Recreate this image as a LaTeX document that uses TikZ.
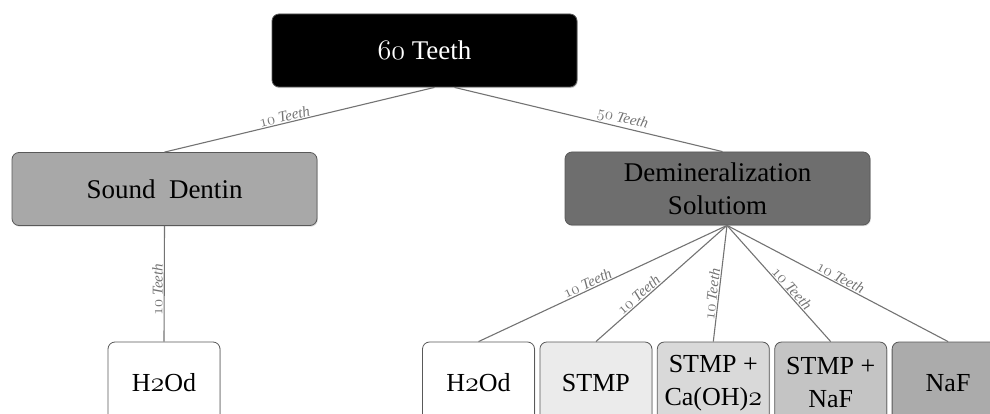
\documentclass[tikz,border=0pt]{standalone}
\usepackage{fontspec}
\setmainfont{Liberation Serif}
\usetikzlibrary{positioning,shadows}
\newcommand{\osn}[1]{\scalebox{1.13}{\fontencoding{OML}\fontfamily{cmm}\fontshape{it}\selectfont#1}}

\begin{document}
\begin{tikzpicture}[
      x=1pt,y=-1pt,
      every node/.style={font=\fontsize{27}{33}\selectfont},
      box/.style={draw=black!65,rounded corners=7pt,line width=0.8pt,align=center,inner sep=0pt,
        minimum width=305pt,minimum height=73pt,
        drop shadow={shadow xshift=0.8pt,shadow yshift=-1.2pt,opacity=0.3}},
      leaf/.style={box,minimum width=112pt,minimum height=82pt,font=\fontsize{26}{33}\selectfont},
      link/.style={draw=black!55,line width=1.1pt},
      dlbl/.style={sloped,above,inner sep=1pt,font=\itshape\fontsize{15}{17}\selectfont,text=black!55},
    ]
    \useasboundingbox (0,0) rectangle (990,414);

    \node[box,fill=black,text=white] (teeth) at (424.5,50.5) {\osn{60} Teeth};
    \node[box,fill=black!34] (sound) at (164.5,189) {Sound\ \ Dentin};
    \node[box,fill=black!57] (demin) at (717.5,188.5) {Demineralization\\Solutiom};

    % grupos finais
    \node[leaf,fill=white] (h2oa) at (164,383) {H\osn{2}Od};
    \node[leaf,fill=white] (h2ob) at (478.5,383) {H\osn{2}Od};
    \node[leaf,fill=black!8,right=4.6pt of h2ob] (stmp) {STMP};
    \node[leaf,fill=black!15,right=4.6pt of stmp] (stca) {STMP +\\Ca(OH)\osn{2}};
    \node[leaf,fill=black!23,right=4.6pt of stca] (stnaf) {STMP +\\NaF};
    \node[leaf,fill=black!33,right=4.6pt of stnaf] (naf) {NaF};

    \draw[link] ([xshift=10pt]teeth.south) -- (sound.north) node[dlbl,pos=0.55]{\osn{10} Teeth};
    \draw[link] ([xshift=30pt]teeth.south) -- ([xshift=5pt]demin.north) node[dlbl,pos=0.62]{\osn{50} Teeth};
    \draw[link] (sound.south) -- (h2oa.north) node[dlbl,pos=0.55]{\osn{10} Teeth};

    \draw[link] ([xshift=9.5pt]demin.south) -- (h2ob.north) node[dlbl,pos=0.55]{\osn{10} Teeth};
    \draw[link] ([xshift=9.5pt]demin.south) -- (stmp.north) node[dlbl,pos=0.64]{\osn{10} Teeth};
    \draw[link] ([xshift=9.5pt]demin.south) -- (stca.north) node[dlbl,pos=0.6]{\osn{10} Teeth};
    \draw[link] ([xshift=9.5pt]demin.south) -- (stnaf.north) node[dlbl,pos=0.58]{\osn{10} Teeth};
    \draw[link] ([xshift=9.5pt]demin.south) -- (naf.north) node[dlbl,pos=0.5]{\osn{10} Teeth};
  \end{tikzpicture}
\end{document}
